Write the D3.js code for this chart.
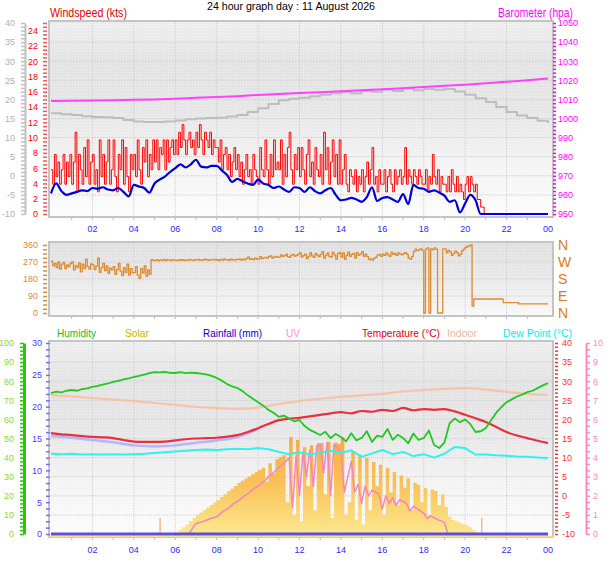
<!DOCTYPE html>
<html>
<head>
<meta charset="utf-8">
<script src="https://cdn.jsdelivr.net/npm/d3@7"></script>
<style>
body{margin:0;background:#fff}
text{font-family:"Liberation Sans",Arial,sans-serif}
</style>
</head>
<body>
<svg id="chart" width="608" height="561"></svg>
<script>
// ---- data ----
var tickHours = [2,4,6,8,10,12,14,16,18,20,22,24];
var tickLabels = ["02","04","06","08","10","12","14","16","18","20","22","00"];

// hourly barometer (hpa)
var barometer = [1009.2,1009.3,1009.4,1009.6,1009.8,1010.0,1010.4,1010.8,1011.2,1011.7,1012.3,1012.8,1013.3,
  1013.8,1014.3,1014.8,1015.3,1015.9,1016.5,1017.1,1017.7,1018.4,1019.2,1020.0,1020.9];

// average wind, every 15 min (kts)
var windAvg = [2.7,4.0,3.0,2.5, 2.7,2.9,3.1,3.0, 3.4,3.3,3.5,3.2, 3.1,3.4,2.9,2.3, 3.8,3.6,3.4,2.8,
  4.0,4.5,4.9,5.5, 6.0,6.5,6.1,6.5, 7.1,6.2,6.1,6.3, 6.3,5.7,5.1,4.2, 4.6,4.3,4.0,3.8,
  4.5,4.0,3.8,3.4, 3.6,3.2,2.9,3.5, 3.4,2.9,3.5,3.0, 2.7,3.1,3.4,2.5, 1.8,1.9,2.1,1.9,
  1.6,2.2,3.5,1.7, 2.1,2.2,1.9,1.6, 2.6,1.3,3.8,3.4, 3.3,2.9,3.1,2.8, 2.4,1.6,1.8,0.2,
  1.4,2.5,1.8,0, 0,0,0,0, 0,0,0,0, 0,0,0,0, 0];

// wind gust, every 5 min (kts)
var windGust = [
  5.8,3.9,7.8,4.9,6.8,3.9,5.8,7.8,3.9,6.8,4.9,7.8,
  3.9,6.8,10.7,2.9,7.8,5.8,3.9,8.7,4.9,9.7,3.9,6.8,
  7.8,3.9,5.8,2.9,9.7,4.9,7.8,3.9,6.8,9.7,3.9,5.8,
  9.7,4.9,2.9,7.8,5.8,9.7,3.9,8.7,4.9,2.9,7.8,5.8,
  7.8,4.9,9.7,5.8,3.9,8.7,6.8,9.7,4.9,7.8,5.8,9.7,
  6.8,9.7,5.8,8.7,7.8,9.7,5.8,9.7,6.8,8.7,9.7,7.8,
  9.7,7.8,10.7,8.7,11.7,9.7,7.8,9.7,10.7,8.7,9.7,7.8,
  10.7,8.7,11.7,9.7,7.8,10.7,9.7,8.7,10.7,7.8,9.7,8.7,
  8.7,6.8,9.7,5.8,7.8,8.7,5.8,7.8,4.9,6.8,8.7,5.8,
  7.8,4.9,6.8,3.9,5.8,7.8,4.9,5.8,3.9,7.8,5.8,4.9,
  3.9,8.7,5.8,4.9,9.7,5.8,3.9,7.8,4.9,9.7,5.8,6.8,
  5.8,9.7,3.9,7.8,4.9,8.7,10.7,5.8,3.9,7.8,5.8,8.7,
  4.9,8.7,5.8,3.9,7.8,9.7,4.9,6.8,3.9,8.7,5.8,4.9,
  7.8,3.9,10.7,5.8,8.7,3.9,6.8,9.7,4.9,7.8,3.9,9.7,
  3.9,5.8,7.8,3.9,2.9,5.8,4.9,3.9,5.8,2.9,4.9,3.9,
  5.8,2.9,4.9,6.8,3.9,5.8,8.7,3.9,4.9,2.9,5.8,3.9,
  3.9,5.8,2.9,4.9,5.8,3.9,2.9,5.8,3.9,4.9,5.8,3.9,
  4.9,8.7,3.9,5.8,4.9,3.9,5.8,4.9,3.9,5.8,4.9,3.9,
  3.9,5.8,2.9,4.9,3.9,7.8,4.9,3.9,5.8,2.9,4.9,3.9,
  3.9,2.9,4.9,2.9,5.8,3.9,2.9,4.9,2.9,3.9,2.9,1.9,
  3.9,4.9,2.9,4.9,3.9,2.9,3.9,1.9,1.9,0.9,0.9,0,
  0,0,0,0,0,0,0,0,0,0,0,0,
  0,0,0,0,0,0,0,0,0,0,0,0,
  0,0,0,0,0,0,0,0,0,0,0,0,
  0];

// wind direction, every 5 min (degrees)
var windDir = [
  275,250,262,240,270,232,258,268,235,255,245,262,
  270,228,252,240,265,218,258,235,285,245,232,260,
  255,230,248,290,215,240,262,225,250,210,238,228,
  246,205,230,262,222,198,240,215,258,200,235,212,
  215,245,200,184,236,212,250,195,228,205,282,278,
  278,283,276,281,279,284,277,282,280,278,283,279,
  280,277,283,279,282,278,281,279,284,280,278,282,
  281,284,279,283,280,285,282,279,283,281,284,280,
  282,278,284,280,286,281,283,279,285,282,280,284,
  283,287,280,285,282,289,296,284,288,283,290,286,
  286,298,288,292,295,290,299,302,291,296,300,294,
  296,308,300,304,312,298,295,306,310,301,305,312,
  318,296,305,312,288,300,320,302,294,315,306,298,
  310,325,290,305,318,300,296,322,308,285,315,320,
  296,318,284,305,322,300,310,315,290,320,305,312,
  325,300,312,298,283,286,280,290,295,306,310,300,
  312,305,318,308,300,322,310,315,305,318,312,308,
  315,320,310,290,285,300,325,338,330,335,340,332,
  0,338,345,0,340,335,345,338,0,0,0,340,
  340,318,332,325,305,315,328,320,302,312,330,338,
  348,352,355,360,36,74,74,74,74,74,74,74,
  74,74,74,74,74,74,74,74,74,74,55,55,
  55,55,55,55,55,55,55,48,48,48,48,48,
  48,48,48,48,48,48,48,48,48,48,48,48,
  48];

// outdoor temperature, every 30 min (°C)
var temperature = [16.4,16.1,15.9,15.6,15.4,15.3,15.1,14.6,14.2,14.1,14.1,14.2,14.5,14.8,15.0,15.1,
  15.2,15.5,15.9,16.7,17.7,18.8,19.8,20.2,20.4,20.8,21.2,21.6,21.9,21.6,22.2,22.0,22.5,22.2,23.0,22.4,
  22.7,22.5,22.7,22.1,21.2,20.3,19.3,18.0,16.7,15.8,15.1,14.4,13.8];

// wind chill, hourly 00-10 (°C)
var windChill = [15.7,15.2,14.6,14.0,13.2,12.9,13.2,13.9,14.5,15.4,17.5];

// dew point, every 30 min (°C)
var dewPoint = [11.0,10.9,11.0,10.8,10.9,10.8,10.9,10.8,10.9,11.0,11.2,11.4,11.6,11.8,12.0,12.1,12.0,12.2,
  12.3,12.2,12.5,12.2,11.5,10.9,11.4,10.8,11.3,11.8,11.2,11.9,10.2,11.1,12.0,10.9,11.5,10.4,10.9,10.0,
  11.0,12.8,12.5,10.8,10.8,10.6,10.5,10.3,10.2,10.0,9.9];

// indoor temperature, hourly (°C)
var indoor = [26.4,26.0,25.6,25.2,24.8,24.3,23.8,23.3,23.0,22.8,23.1,24.0,24.8,25.4,25.9,26.3,26.7,27.3,
  27.7,28.0,28.2,27.8,27.2,26.7,26.4];

// humidity, every 15 min (%)
var humidity = [73.8,74.5,74.2,75.0, 75.4,75.0,75.8,76.2, 77.0,77.5,78.2,78.8, 79.6,80.2,80.9,81.5,
  82.2,82.8,83.5,84.2, 84.8,84.6,84.9,84.4, 84.3,84.7,84.2,84.5, 84.3,84.0,83.6,82.8,
  81.7,80.3,78.5,77.3, 76.4,74.8,72.6,70.8, 69.0,67.2,65.0,63.5, 61.3,62.0,60.4,59.0,
  59.7,56.5,54.5,53.2, 51.8,53.5,50.2,52.4, 50.8,48.5,52.8,49.0, 50.3,53.8,48.2,51.5,
  50.8,55.0,49.3,52.0, 50.3,47.5,52.6,49.2, 50.3,54.2,46.6,45.0, 48.0,58.0,60.5,58.5,
  60.0,57.5,53.4,53.8, 55.5,59.5,63.5,66.5, 69.0,70.5,72.0,73.0, 74.3,75.0,76.4,77.8, 79.0];

// rainfall, hourly (mm)
var rainfall = [0,0,0,0,0,0,0,0,0,0,0,0,0,0,0,0,0,0,0,0,0,0,0,0,0];

// solar radiation from 05:30, every 10 min (W/m2)
var solarStart = 5.5;
var solar = [0,2,4, 10,25,42,60,80,100, 120,135,150,165,182,198, 214,232,250,268,285,302,
  320,334,348,362,375,388, 402,416,330,445,380,470, 484,495,200,610,120,590, 80,545,300,558,150,570,
  572,250,578,100,575,565, 610,120,200,522,90,500, 60,478,150,452,300,435, 120,415,260,390,180,368,
  290,350,150,322,310,200, 289,120,280,270,180,250, 170,110,88,80,72,62, 57,42,25,13,5,0];

// UV index from 05:30, every 10 min
var uvIndex = [0,0,0, 0,0,0,0,0,0.3, 0.55,0.6,0.65,0.72,0.8,0.85, 0.9,1.05,1.2,1.3,1.45,1.6,
  1.7,1.85,2.0,2.1,2.25,2.4, 2.5,2.65,2.8,3.0,3.15,3.3, 3.5,3.6,3.8,4.0,1.4,4.1, 2.0,4.3,3.0,4.4,2.5,4.6,
  4.7,3.2,4.8,2.0,4.7,4.5, 4.3,2.2,3.0,3.8,2.2,2.6, 1.6,2.5,2.0,2.3,2.2,2.1, 1.3,2.0,1.6,1.9,1.5,1.8,
  1.7,1.6,1.2,1.45,1.35,1.2, 1.1,0.8,0.95,0.85,0.75,0.7, 0.6,0,0,0,0,0, 0,0,0,0,0,0];

// sunrise / sunset (hours)
var sunEvents = [5.27, 20.8];

var dirLetters = ["N","E","S","W","N"];

// ---- helpers ----
var svg = d3.select("#chart");
var defs = svg.append("defs");
var x = d3.scaleLinear().domain([0, 24]).range([51, 548]);

function pts(vals, start, step) {
  return vals.map(function(v, i) { return [start + i * step, v]; });
}

function gradient(id, stops, y1, y2) {
  var g = defs.append("linearGradient").attr("id", id).attr("gradientUnits", "userSpaceOnUse")
    .attr("x1", 0).attr("x2", 0).attr("y1", y1).attr("y2", y2);
  stops.forEach(function(s) { g.append("stop").attr("offset", s[0]).attr("stop-color", s[1]); });
}

// speckle texture like the original
var pat = defs.append("pattern").attr("id", "dots").attr("width", 3).attr("height", 3)
  .attr("patternUnits", "userSpaceOnUse");
pat.append("rect").attr("width", 1).attr("height", 1).attr("fill", "#ffffff").attr("opacity", 0.45);

function panel(id, top, bottom, gridScale, gridVals, stops) {
  gradient(id, stops, top, bottom);
  svg.append("rect").attr("x", 49).attr("y", top).attr("width", 504).attr("height", bottom - top)
    .attr("fill", "url(#" + id + ")");
  svg.append("rect").attr("x", 49).attr("y", top).attr("width", 504).attr("height", bottom - top)
    .attr("fill", "url(#dots)");
  var g = svg.append("g");
  g.selectAll(".v").data(tickHours.slice(0, -1)).enter().append("line")
    .attr("x1", function(d) { return x(d); }).attr("x2", function(d) { return x(d); })
    .attr("y1", top).attr("y2", bottom)
    .attr("stroke", "#cccccc").attr("stroke-dasharray", "1,1");
  g.selectAll(".h").data(gridVals).enter().append("line")
    .attr("x1", 49).attr("x2", 553)
    .attr("y1", function(d) { return gridScale(d); }).attr("y2", function(d) { return gridScale(d); })
    .attr("stroke", "#cccccc").attr("stroke-dasharray", "1,1");
  // hour ticks under the panel
  g.selectAll(".t").data(d3.range(1, 24)).enter().append("line")
    .attr("x1", function(d) { return x(d); }).attr("x2", function(d) { return x(d); })
    .attr("y1", bottom).attr("y2", bottom + 3).attr("stroke", "#b8b8b8");
  svg.append("rect").attr("x", 49).attr("y", top).attr("width", 504).attr("height", bottom - top)
    .attr("fill", "none").attr("stroke", "#c4c4c4").attr("stroke-width", 2);
}

function yAxis(scale, side, xpos, step, major, color, opt) {
  opt = opt || {};
  var dom = scale.domain();
  var n = Math.round((dom[1] - dom[0]) / step);
  var vals = d3.range(0, n + 1).map(function(i) { return +(dom[0] + i * step).toFixed(4); });
  var isMajor = function(v) { return Math.abs(v / major - Math.round(v / major)) < 1e-6; };
  var axis = (side === "left" ? d3.axisLeft(scale) : d3.axisRight(scale))
    .tickValues(vals).tickSize(opt.size || 4).tickSizeOuter(0).tickPadding(opt.pad || 3)
    .tickFormat(function(v) { return isMajor(v) ? v : ""; });
  var g = svg.append("g").attr("transform", "translate(" + xpos + ",0)").call(axis);
  g.select(".domain").attr("stroke", opt.line || "none").attr("stroke-width", opt.lineW || 1);
  g.selectAll(".tick line").attr("stroke", opt.tick || color).attr("stroke-width", 1.5);
  g.selectAll(".tick text").attr("fill", opt.text || color)
    .style("font-size", "9px").style("font-family", "Liberation Sans, Arial, sans-serif");
  return g;
}

function xLabels(yBase) {
  svg.append("g").selectAll("text").data(tickHours).enter().append("text")
    .attr("x", function(d) { return x(d); }).attr("y", yBase).attr("text-anchor", "middle")
    .attr("fill", "#2a2aff").style("font-size", "9px")
    .text(function(d, i) { return tickLabels[i]; });
}

// text squeezed to the width it has in the original
function label(txt, xp, yp, color, anchor, size, len) {
  var t = svg.append("text").attr("x", xp).attr("y", yp).attr("fill", color)
    .attr("text-anchor", anchor || "start").style("font-size", (size || 12) + "px").text(txt);
  if (len) t.attr("textLength", len).attr("lengthAdjust", "spacingAndGlyphs");
}

function drawLine(data, ys, color, width, curve) {
  svg.append("path").datum(data)
    .attr("d", d3.line().curve(curve || d3.curveLinear)
      .x(function(d) { return x(d[0]); }).y(function(d) { return ys(d[1]); }))
    .attr("fill", "none").attr("stroke", color).attr("stroke-width", width)
    .attr("stroke-linejoin", "round");
}

// ---- title ----
label("24 hour graph day : 11 August 2026", 291, 10, "#000", "middle", 11, 168);

// ---- top panel: wind + barometer ----
var yWind = d3.scaleLinear().domain([0, 25]).range([214, 23]);
var yGray = d3.scaleLinear().domain([-10, 40]).range([214, 23]);
var yBaro = d3.scaleLinear().domain([950, 1050]).range([214, 23]);

panel("gTop", 21, 217, yBaro, d3.range(960, 1050, 10),
  [[0, "#eeeeee"], [0.22, "#e3e3e3"], [0.45, "#e6e6e6"], [0.72, "#f3f3f3"], [1, "#fcfcfc"]]);

yAxis(yGray, "left", 25, 1, 5, "#b0b0b0", {line: "#c0c0c0", lineW: 2, pad: 6, tick: "#c0c0c0"});
yAxis(yWind, "left", 47, 0.5, 2, "#ff0000", {pad: 5, tick: "#ff5050"});
yAxis(yBaro, "right", 553, 2, 10, "#ff00ff", {size: 3, pad: 2});

label("Windspeed (kts)", 50, 16.5, "#e00000", "start", 12, 77);
label("Barometer (hpa)", 573, 16.5, "#ff00ff", "end", 12, 75);
xLabels(232);

drawLine(pts(temperature, 0, 0.5), yGray, "#bdbdbd", 2, d3.curveStepAfter);
drawLine(pts(barometer, 0, 1), yBaro, "#ff40ff", 2);
drawLine(pts(windGust, 0, 1 / 12), yWind, "#ff0000", 1, d3.curveStepAfter);
drawLine(pts(windAvg, 0, 0.25), yWind, "#0000dd", 2.2, d3.curveMonotoneX);

// ---- middle panel: wind direction ----
var yDir = d3.scaleLinear().domain([0, 360]).range([313, 245]);
panel("gMid", 242, 316, yDir, [90, 180, 270],
  [[0, "#e0e0e0"], [0.5, "#e9e9e9"], [1, "#f8f8f8"]]);
yAxis(yDir, "left", 47, 22.5, 90, "#e08a30", {pad: 5});
svg.append("g").selectAll("text").data(dirLetters).enter().append("text")
  .attr("x", 558).attr("y", function(d, i) { return yDir(i * 90) + 5; })
  .attr("fill", "#e07b10").style("font-size", "14px").text(function(d) { return d; });
drawLine(pts(windDir, 0, 1 / 12), yDir, "#e08a30", 1.3, d3.curveStepAfter);

// ---- bottom panel ----
var yHum = d3.scaleLinear().domain([0, 100]).range([534, 343]);
var yRain = d3.scaleLinear().domain([0, 30]).range([534, 343]);
var yTemp = d3.scaleLinear().domain([-10, 40]).range([534, 343]);
var yUV = d3.scaleLinear().domain([0, 10]).range([534, 343]);
var ySolar = d3.scaleLinear().domain([0, 1200]).range([534, 343]);

panel("gBot", 341, 537, yTemp, d3.range(-5, 40, 5),
  [[0, "#eeeeee"], [0.22, "#e3e3e3"], [0.45, "#e6e6e6"], [0.72, "#f3f3f3"], [1, "#fcfcfc"]]);

yAxis(yHum, "left", 24, 2, 10, "#22cc00", {line: "#22cc00", lineW: 3, pad: 6, text: "#88dd22"});
yAxis(yRain, "left", 50, 1, 5, "#4040ff", {pad: 4, tick: "#7070ff"});
yAxis(yTemp, "right", 555, 1, 5, "#ff3030", {size: 3, pad: 4});
yAxis(yUV, "right", 586, 1 / 3, 1, "#ff88c0", {line: "#ff88c0", lineW: 2, pad: 3});
xLabels(553);

var legend = [
  ["Humidity", 57, "#10c010", 39], ["Solar", 125, "#c8b400", 24], ["Rainfall (mm)", 203, "#0000cc", 59],
  ["UV", 286, "#ff90c8", 14], ["Temperature (°C)", 362, "#e00000", 78], ["Indoor", 447, "#f4b49c", 30],
  ["Dew Point (°C)", 503, "#00eeee", 69]
];
legend.forEach(function(l) { label(l[0], l[1], 336.5, l[2], "start", 10.5, l[3]); });

gradient("gSolar", [[0, "#f6aa40"], [0.5, "#f9c25a"], [1, "#fde88e"]], 435, 534);
svg.append("path").datum(pts(solar, solarStart, 1 / 6))
  .attr("d", d3.area().curve(d3.curveStepAfter).x(function(d) { return x(d[0]); })
    .y0(ySolar(0)).y1(function(d) { return ySolar(d[1]); }))
  .attr("fill", "url(#gSolar)");
svg.append("line").attr("x1", 49).attr("x2", 553).attr("y1", 536.5).attr("y2", 536.5)
  .attr("stroke", "#f8e08a").attr("stroke-width", 1.5);

svg.append("g").selectAll("line").data(sunEvents).enter().append("line")
  .attr("x1", function(d) { return x(d); }).attr("x2", function(d) { return x(d); })
  .attr("y1", ySolar(0)).attr("y2", ySolar(100))
  .attr("stroke", "#f2b898").attr("stroke-width", 1.5);

drawLine(pts(uvIndex, solarStart, 1 / 6), yUV, "#f286c4", 1.5);
drawLine(pts(indoor, 0, 1), yTemp, "#f8c2aa", 2.2, d3.curveMonotoneX);
drawLine(pts(windChill, 0, 1), yTemp, "#b4b4ff", 2.5, d3.curveMonotoneX);
drawLine(pts(temperature, 0, 0.5), yTemp, "#e83040", 2.2, d3.curveMonotoneX);
drawLine(pts(dewPoint, 0, 0.5), yTemp, "#33f0f0", 2);
drawLine(pts(humidity, 0, 0.25), yHum, "#22c822", 1.8);
drawLine(pts(rainfall, 0, 1), yRain, "#5a50e0", 3);
</script>
</body>
</html>
